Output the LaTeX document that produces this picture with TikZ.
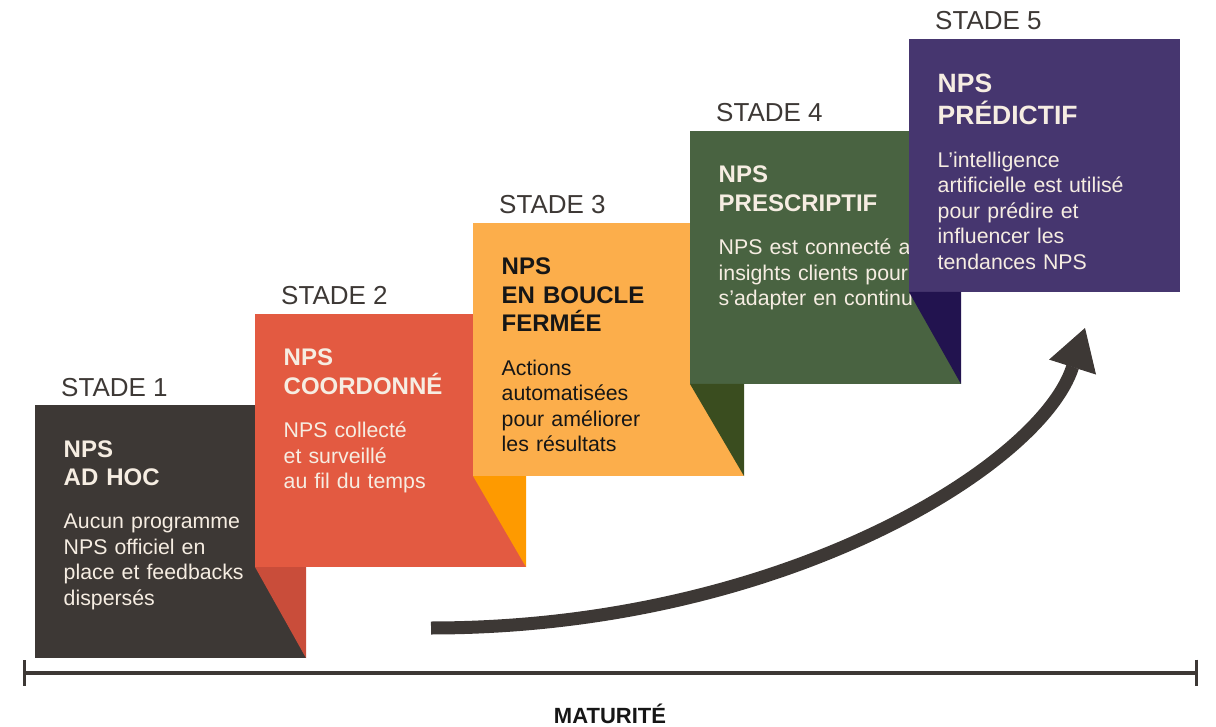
\documentclass[tikz,border=0pt]{standalone}
\usepackage{fontspec}
\setmainfont{Liberation Sans}
\usetikzlibrary{arrows.meta}
\definecolor{inkgray}{RGB}{61,56,53}
\definecolor{stadered}{RGB}{227,90,65}
\definecolor{foldred}{RGB}{201,77,58}
\definecolor{stadeorange}{RGB}{252,174,75}
\definecolor{foldorange}{RGB}{254,154,0}
\definecolor{stadegreen}{RGB}{73,99,65}
\definecolor{foldgreen}{RGB}{58,77,31}
\definecolor{stadepurple}{RGB}{70,54,111}
\definecolor{foldpurple}{RGB}{34,19,79}
\definecolor{cream}{RGB}{246,237,226}
\definecolor{inkblack}{RGB}{22,22,22}

\begin{document}
\begin{tikzpicture}[x=1pt, y=-1pt,
  stadebox/.style={rectangle, inner sep=0pt, outer sep=0pt, minimum width=271pt,
    minimum height=253pt, anchor=north west},
  stadelabel/.style={inner sep=0pt, anchor=base west, text=inkgray,
    font=\fontsize{26}{31}\selectfont},
  stadetitle/.style={inner sep=0pt, anchor=base west, text width=235pt, align=left,
    font=\fontsize{24}{28.5}\selectfont\bfseries},
  stadebody/.style={inner sep=0pt, anchor=base west, text width=235pt, align=left,
    font=\fontsize{21.3}{25.5}\selectfont},
  growth/.style={line width=13pt, draw=inkgray,
    -{Triangle[length=41pt,width=49pt,line width=1pt]}},
  axisline/.style={line width=4pt, draw=inkgray,
    {Bar[width=26pt,line width=3pt]}-{Bar[width=26pt,line width=3pt]}}]
  \useasboundingbox (0,0) rectangle (1216,727);

  % stade 1
  \node[stadebox, fill=inkgray] (box1) at (35,405) {};
  \node[stadelabel] (label1) at ([xshift=26pt, yshift=9pt]box1.north west) {STADE 1};
  \node[stadetitle, text=cream] (title1) at ([xshift=28.5pt, yshift=-52pt]box1.north west) {NPS\\AD HOC};
  \node[stadebody, text=cream] (body1) at ([yshift=-43pt]title1.south west)
    {Aucun programme\\NPS officiel en\\place et feedbacks\\dispersés};

  % stade 2
  \node[stadebox, fill=stadered] (box2) at (255,314) {};
  \fill[foldred] (box2.south west) -- (box1.south east |- box2.south west) -- (box1.south east) -- cycle;
  \node[stadelabel] (label2) at ([xshift=26pt, yshift=9pt]box2.north west) {STADE 2};
  \node[stadetitle, text=cream] (title2) at ([xshift=28.5pt, yshift=-52pt]box2.north west) {NPS\\COORDONNÉ};
  \node[stadebody, text=cream] (body2) at ([yshift=-43pt]title2.south west)
    {NPS collecté\\et surveillé\\au fil du temps};

  % stade 3
  \node[stadebox, fill=stadeorange] (box3) at (473,223) {};
  \fill[foldorange] (box3.south west) -- (box2.south east |- box3.south west) -- (box2.south east) -- cycle;
  \node[stadelabel] (label3) at ([xshift=26pt, yshift=9pt]box3.north west) {STADE 3};
  \node[stadetitle, text=inkblack] (title3) at ([xshift=28.5pt, yshift=-52pt]box3.north west) {NPS\\EN BOUCLE\\FERMÉE};
  \node[stadebody, text=inkblack] (body3) at ([yshift=-43pt]title3.south west)
    {Actions\\automatisées\\pour améliorer\\les résultats};

  % stade 4
  \node[stadebox, fill=stadegreen] (box4) at (690,131) {};
  \fill[foldgreen] (box4.south west) -- (box3.south east |- box4.south west) -- (box3.south east) -- cycle;
  \node[stadelabel] (label4) at ([xshift=26pt, yshift=9pt]box4.north west) {STADE 4};
  \node[stadetitle, text=cream] (title4) at ([xshift=28.5pt, yshift=-52pt]box4.north west) {NPS\\PRESCRIPTIF};
  \node[stadebody, text=cream] (body4) at ([yshift=-43pt]title4.south west)
    {NPS est connecté aux\\insights clients pour\\s’adapter en continu};

  % stade 5
  \node[stadebox, fill=stadepurple] (box5) at (909,39) {};
  \fill[foldpurple] (box5.south west) -- (box4.south east |- box5.south west) -- (box4.south east) -- cycle;
  \node[stadelabel] (label5) at ([xshift=26pt, yshift=9pt]box5.north west) {STADE 5};
  \node[stadetitle, text=cream, font=\fontsize{26.5}{31.7}\selectfont\bfseries] (title5)
    at ([xshift=28.5pt, yshift=-54pt]box5.north west) {NPS\\PRÉDICTIF};
  \node[stadebody, text=cream] (body5) at ([yshift=-42.3pt]title5.south west)
    {L’intelligence\\artificielle est utilisé\\pour prédire et\\influencer les\\tendances NPS};

  % fleche et axe
  \coordinate (arrowtail) at (431,628);
  \coordinate (arrowtip) at (1085,328);
  \draw[growth] (arrowtail) .. controls (780,628) and (1041,466) .. (arrowtip);
  \coordinate (axisleft) at (23,672.5);
  \coordinate (axisright) at (1198,672.5);
  \draw[axisline] (axisleft) -- (axisright);
  \node[font=\fontsize{22}{26}\selectfont\bfseries, text=inkblack, anchor=base] (maturite) at (610,723) {MATURITÉ};
\end{tikzpicture}
\end{document}
